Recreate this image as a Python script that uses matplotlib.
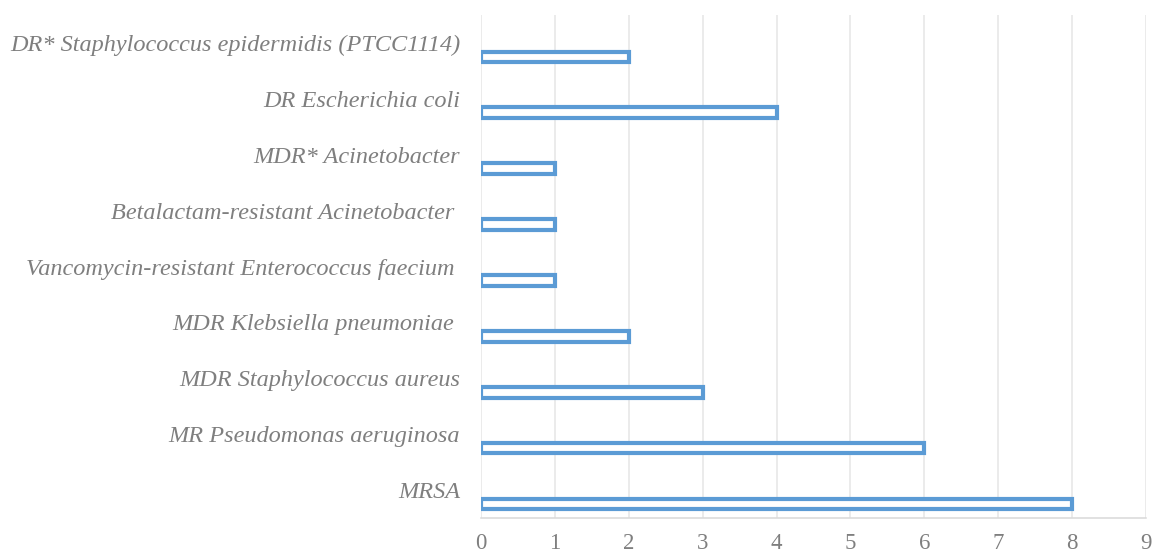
import matplotlib.pyplot as plt
import numpy as np

# categories listed bottom to top
organisms = [
    "MRSA",
    "MR Pseudomonas aeruginosa",
    "MDR Staphylococcus aureus",
    "MDR Klebsiella pneumoniae ",
    "Vancomycin-resistant Enterococcus faecium ",
    "Betalactam-resistant Acinetobacter ",
    "MDR* Acinetobacter",
    "DR Escherichia coli",
    "DR* Staphylococcus epidermidis (PTCC1114)",
]
counts = [8, 6, 3, 2, 1, 1, 1, 4, 2]
x_ticks = list(range(0, 10))

blue = '#5B9BD5'
gray = '#7F7F7F'

plt.rcParams['font.family'] = ['Liberation Serif', 'DejaVu Serif']

fig = plt.figure(figsize=(11.55, 5.56), dpi=100)
ax = fig.add_axes([481 / 1155, 1 - 518 / 556, (1146 - 481) / 1155, (518 - 15) / 556])

y = np.arange(len(organisms))
# bars sit in the lower part of each category band
ax.barh(y - 0.25, counts, height=0.19, facecolor='white', edgecolor=blue,
        linewidth=3.0, zorder=3)

ax.set_xlim(0, 9)
ax.set_ylim(-0.5, len(organisms) - 0.5)
ax.set_xticks(x_ticks)
ax.set_xticklabels([str(t) for t in x_ticks], fontsize=16.5, color=gray)
ax.set_yticks(y)
ax.set_yticklabels(organisms, fontsize=17.5, color=gray, style='italic')
ax.tick_params(axis='both', length=0)
ax.tick_params(axis='y', pad=15)
ax.tick_params(axis='x', pad=11)

ax.grid(axis='x', color='#E6E6E6', linewidth=1.1, zorder=0)
for s in ['top', 'right', 'left']:
    ax.spines[s].set_visible(False)
ax.spines['bottom'].set_color('#D9D9D9')
ax.spines['bottom'].set_linewidth(1.1)

fig.savefig('out.png', dpi=100)
